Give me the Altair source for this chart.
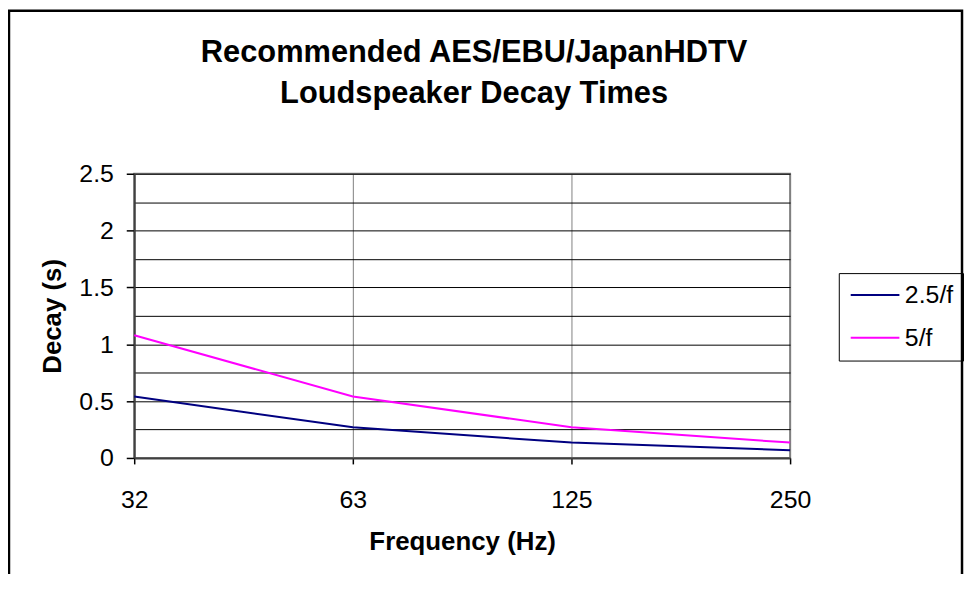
import altair as alt
import pandas as pd

# ---- data ----
freqs = ["32", "63", "125", "250"]
series_names = ["2.5/f", "5/f"]
decay_2_5 = [0.54, 0.27, 0.135, 0.068]
decay_5 = [1.08, 0.54, 0.27, 0.135]
series_colors = ["#000080", "#FF00FF"]
y_tick_values = [0, 0.25, 0.5, 0.75, 1, 1.25, 1.5, 1.75, 2, 2.25, 2.5]
title_lines = ["Recommended AES/EBU/JapanHDTV", "Loudspeaker Decay Times"]
x_title = "Frequency (Hz)"
y_title = "Decay (s)"

rows = []
for f, a, b in zip(freqs, decay_2_5, decay_5):
    rows.append({"freq": f, "series": series_names[0], "decay": a})
    rows.append({"freq": f, "series": series_names[1], "decay": b})
df = pd.DataFrame(rows)

FONT = "Liberation Sans"

lines = alt.Chart(df).mark_line(strokeWidth=2).encode(
    x=alt.X(
        "freq:N",
        sort=freqs,
        scale=alt.Scale(type="point", padding=0),
        axis=alt.Axis(
            title=x_title,
            labelAngle=0,
            grid=True,
            gridColor="#808080",
            gridWidth=1,
            domainColor="#404040",
            domainWidth=2,
            tickColor="#000000",
            tickSize=6,
            tickWidth=1.5,
            labelFontSize=25,
            labelPadding=24,
            labelColor="#000000",
            titleFontSize=26,
            titleFontWeight="bold",
            titleColor="#000000",
            titleX=330,
            titleY=92,
            titleBaseline="alphabetic",
            titleAlign="center",
        ),
    ),
    y=alt.Y(
        "decay:Q",
        scale=alt.Scale(domain=[0, 2.5], nice=False),
        axis=alt.Axis(
            values=y_tick_values,
            labelExpr="datum.value % 0.5 == 0 ? format(datum.value, '~g') : ''",
            grid=True,
            gridColor="#000000",
            gridWidth=1,
            tickSize=8,
            tickColor="#000000",
            tickWidth=1.5,
            tickOpacity={"condition": {"test": "datum.value % 0.5 != 0", "value": 0}, "value": 1},
            domainColor="#404040",
            domainWidth=2,
            labelFontSize=25,
            labelPadding=13,
            labelColor="#000000",
            title=y_title,
            titleFontSize=26,
            titleFontWeight="bold",
            titleColor="#000000",
            titleX=-74,
            titleY=143,
            titleAngle=270,
            titleBaseline="alphabetic",
            titleAlign="center",
        ),
    ),
    color=alt.Color(
        "series:N",
        scale=alt.Scale(domain=series_names, range=series_colors),
        legend=alt.Legend(
            title=None,
            orient="none",
            legendX=709,
            legendY=100,
            strokeColor="#000000",
            padding=9.5,
            symbolType="M-1,0H3.9",
            symbolSize=400,
            symbolStrokeWidth=2,
            labelFontSize=25,
            labelColor="#000000",
            labelOffset=32,
            rowPadding=17,
        ),
    ),
)

border = alt.Chart(alt.Data(values=[{}])).mark_rect(
    filled=False, stroke="#000000", strokeWidth=2.5
).encode(
    x=alt.value(-126),
    x2=alt.value(833),
    y=alt.value(-164),
    y2=alt.value(430),
)

chart = alt.layer(border, lines).properties(
    width=660,
    height=286,
    title=alt.TitleParams(
        text=title_lines,
        fontSize=31,
        fontWeight="bold",
        font=FONT,
        color="#000000",
        anchor="middle",
        frame="group",
        dx=12,
        offset=-132,
        lineHeight=41,
        baseline="bottom",
    ),
    autosize=alt.AutoSizeParams(type="none"),
    padding={"left": 127, "top": 165, "right": 175, "bottom": 115},
).configure(
    font=FONT, background="#ffffff"
).configure_axis(
    labelFont=FONT, titleFont=FONT
).configure_legend(
    labelFont=FONT
).configure_view(
    stroke="#808080", strokeWidth=2
)

chart.save("out.html", embed_options={"renderer": "svg", "actions": False})
